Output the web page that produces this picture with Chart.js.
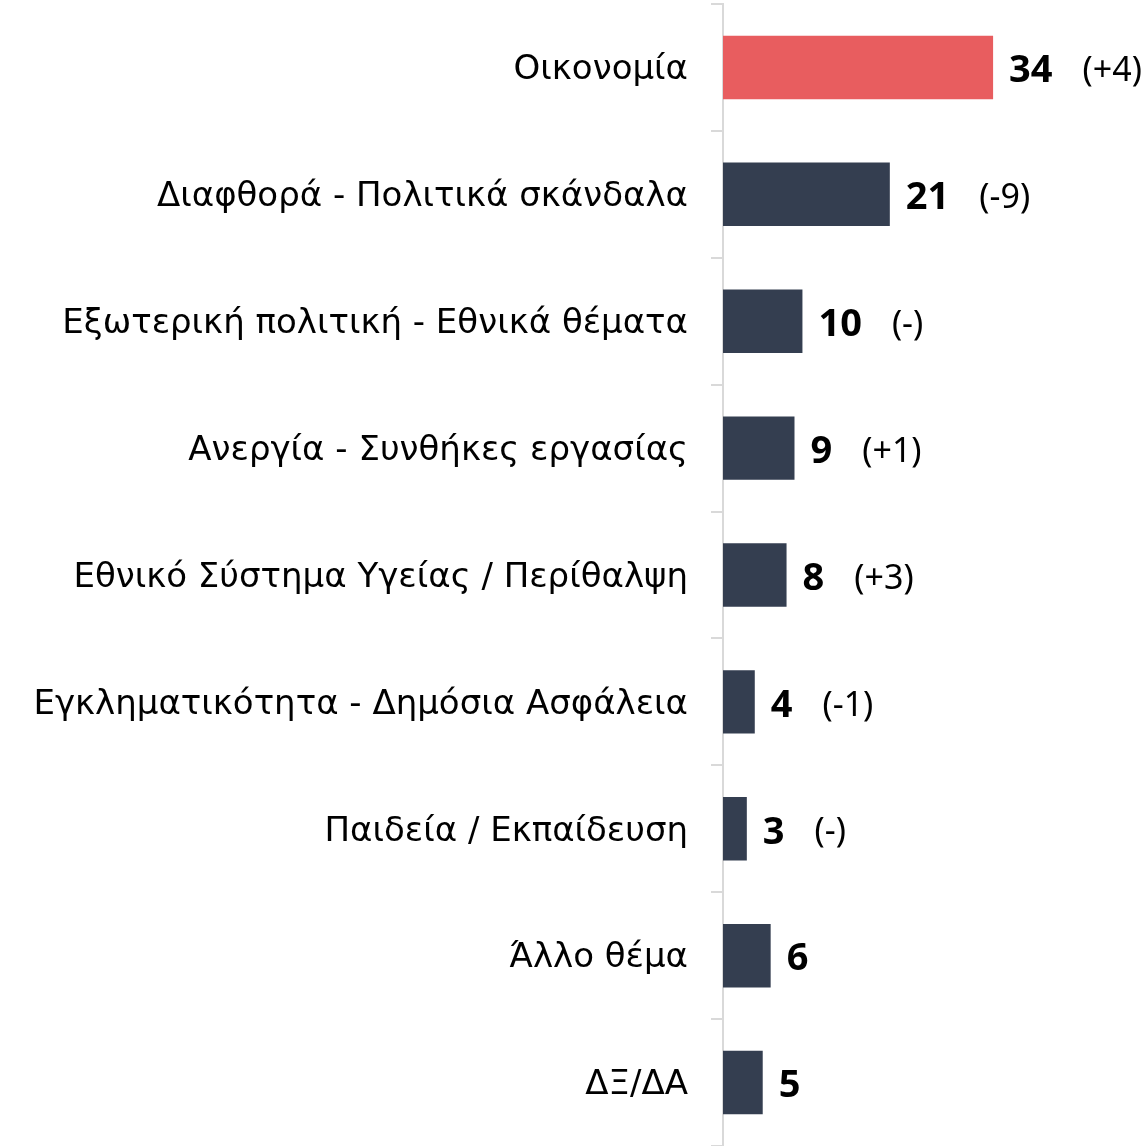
<!DOCTYPE html>
<html>
<head>
<meta charset="utf-8">
<script src="https://cdn.jsdelivr.net/npm/chart.js@4/dist/chart.umd.min.js"></script>
<style>
html,body{margin:0;padding:0;background:#fff;}
#wrap{width:1148px;height:1146px;}
</style>
</head>
<body>
<div id="wrap"><canvas id="c" width="1148" height="1146"></canvas></div>
<script>
const categories = [
  "Οικονομία",
  "Διαφθορά - Πολιτικά σκάνδαλα",
  "Εξωτερική πολιτική - Εθνικά θέματα",
  "Ανεργία - Συνθήκες εργασίας",
  "Εθνικό Σύστημα Υγείας / Περίθαλψη",
  "Εγκληματικότητα - Δημόσια Ασφάλεια",
  "Παιδεία / Εκπαίδευση",
  "Άλλο θέμα",
  "ΔΞ/ΔΑ"
];
const values = [34, 21, 10, 9, 8, 4, 3, 6, 5];
const changes = ["(+4)", "(-9)", "(-)", "(+1)", "(+3)", "(-1)", "(-)", "", ""];
const barColors = ["#E85D5F", "#343E50", "#343E50", "#343E50", "#343E50", "#343E50", "#343E50", "#343E50", "#343E50"];

const FONT = "'DejaVu Sans', 'Noto Sans', sans-serif";
const NFONT = "'Noto Sans', 'DejaVu Sans', sans-serif";

const labelPlugin = {
  id: 'valueLabels',
  afterDatasetsDraw(chart) {
    const ctx = chart.ctx;
    const meta = chart.getDatasetMeta(0);
    ctx.save();
    ctx.textBaseline = 'middle';
    ctx.textAlign = 'left';
    meta.data.forEach((bar, i) => {
      const x = bar.x + 16;
      const y = bar.y + 4;
      ctx.font = "bold 38px " + NFONT;
      ctx.fillStyle = "#000";
      const v = String(values[i]);
      ctx.fillText(v, x, y);
      const w = ctx.measureText(v).width;
      if (changes[i]) {
        ctx.font = "34px " + NFONT;
        ctx.fillText(changes[i], x + w + 30, y);
      }
    });
    ctx.restore();
  }
};

new Chart(document.getElementById('c'), {
  type: 'bar',
  data: {
    labels: categories,
    datasets: [{
      data: values,
      backgroundColor: barColors,
      borderWidth: 0,
      barPercentage: 0.5,
      categoryPercentage: 1.0
    }]
  },
  options: {
    indexAxis: 'y',
    responsive: false,
    animation: false,
    layout: { padding: { top: 4, right: 0, bottom: 0, left: 0 } },
    plugins: { legend: { display: false }, tooltip: { enabled: false } },
    scales: {
      x: { display: false, min: 0, max: 53.5 },
      y: {
        afterFit(scale) {
          scale.width = 723;
          scale.paddingTop = 0;
          scale.paddingBottom = 0;
        },
        grid: {
          drawOnChartArea: false,
          drawTicks: true,
          tickLength: 12,
          color: "#D9D9D9",
          lineWidth: 2,
          offset: true
        },
        border: { display: true, color: "#D9D9D9", width: 2 },
        ticks: {
          padding: 23,
          labelOffset: 3,
          color: "#000",
          font: { family: FONT, size: 34 }
        }
      }
    }
  },
  plugins: [labelPlugin]
});
</script>
</body>
</html>
